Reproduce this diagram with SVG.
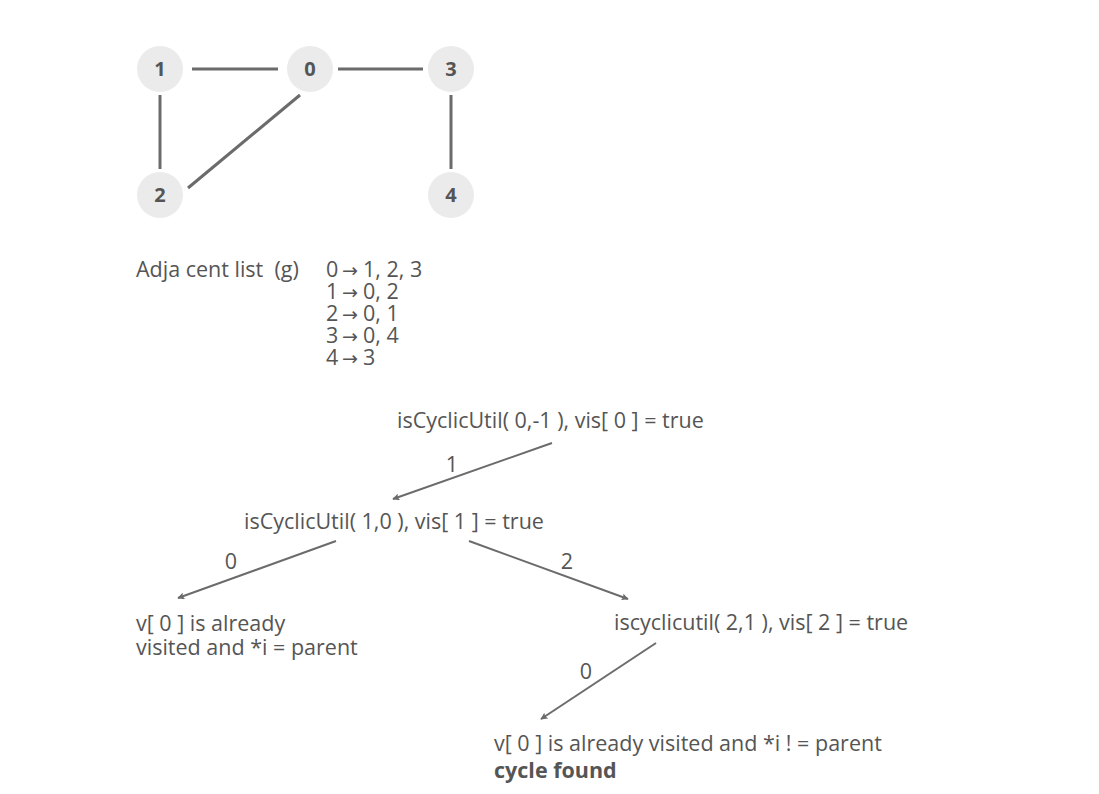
<svg xmlns="http://www.w3.org/2000/svg" width="1099" height="794" viewBox="0 0 1099 794">
<style>
.n{fill:#ebebeb}
.nl{font-family:"Open Sans","Liberation Sans",sans-serif;font-size:20px;font-weight:bold;fill:#555;text-anchor:middle}
.t{font-family:"Open Sans","Liberation Sans",sans-serif;font-size:21.5px;fill:#555}
.pre{white-space:pre}
.ar{font-family:"DejaVu Sans",sans-serif;font-size:19px}
.b{font-weight:bold}
.e{stroke:#6b6b6b;stroke-width:3;fill:none}
.a{stroke:#6b6b6b;stroke-width:2;fill:none;marker-end:url(#ah)}
</style>
<defs>
<marker id="ah" viewBox="0 0 10 10" refX="9" refY="5" markerWidth="7" markerHeight="7" orient="auto" markerUnits="userSpaceOnUse">
<path d="M0,0 L10,5 L0,10 L2,5 z" fill="#6b6b6b"/>
</marker>
</defs>
<rect width="1099" height="794" fill="#fff"/>
<g id="edges">
<line class="e" x1="192" y1="69" x2="278" y2="69"/>
<line class="e" x1="338" y1="69" x2="423" y2="69"/>
<line class="e" x1="160" y1="95" x2="160" y2="169"/>
<line class="e" x1="300" y1="95" x2="188" y2="188"/>
<line class="e" x1="451" y1="95" x2="451" y2="169"/>
</g>
<g id="node1"><circle class="n" cx="160" cy="69" r="23"/><text class="nl" x="160" y="76">1</text></g>
<g id="node0"><circle class="n" cx="310" cy="69" r="23"/><text class="nl" x="310" y="76">0</text></g>
<g id="node3"><circle class="n" cx="451" cy="69" r="23"/><text class="nl" x="451" y="76">3</text></g>
<g id="node2"><circle class="n" cx="160" cy="195" r="23"/><text class="nl" x="160" y="202">2</text></g>
<g id="node4"><circle class="n" cx="451" cy="195" r="23"/><text class="nl" x="451" y="202">4</text></g>
<g id="adjlist">
<text class="t pre" x="136" y="277" xml:space="preserve">Adja cent list  (g)</text>
<text class="t"><tspan x="326" y="277">0</tspan><tspan class="ar" x="342" y="277">→</tspan><tspan x="363" y="277">1, 2, 3</tspan><tspan x="326" y="299">1</tspan><tspan class="ar" x="342" y="299">→</tspan><tspan x="363" y="299">0, 2</tspan><tspan x="326" y="321">2</tspan><tspan class="ar" x="342" y="321">→</tspan><tspan x="363" y="321">0, 1</tspan><tspan x="326" y="343">3</tspan><tspan class="ar" x="342" y="343">→</tspan><tspan x="363" y="343">0, 4</tspan><tspan x="326" y="365">4</tspan><tspan class="ar" x="342" y="365">→</tspan><tspan x="363" y="365">3</tspan></text>
</g>
<g id="connectors">
<line class="a" x1="552" y1="443" x2="393" y2="499"/>
<line class="a" x1="336" y1="541" x2="178" y2="598"/>
<line class="a" x1="469" y1="541" x2="628" y2="599"/>
<line class="a" x1="656" y1="643" x2="541" y2="719"/>
<text class="t" x="452" y="472" text-anchor="middle">1</text>
<text class="t" x="231" y="569" text-anchor="middle">0</text>
<text class="t" x="567" y="569" text-anchor="middle">2</text>
<text class="t" x="586" y="679" text-anchor="middle">0</text>
</g>
<g id="call0"><text class="t" x="397" y="428">isCyclicUtil( 0,-1 ), vis[ 0 ] = true</text></g>
<g id="call1"><text class="t" x="244" y="529">isCyclicUtil( 1,0 ), vis[ 1 ] = true</text></g>
<g id="visited0"><text class="t" x="136" y="631">v[ 0 ] is already</text><text class="t" x="136" y="655">visited and *i = parent</text></g>
<g id="call2"><text class="t" x="614" y="630">iscyclicutil( 2,1 ), vis[ 2 ] = true</text></g>
<g id="cycle"><text class="t" x="494" y="751">v[ 0 ] is already visited and *i ! = parent</text><text class="t b" x="494" y="778">cycle found</text></g>
</svg>
